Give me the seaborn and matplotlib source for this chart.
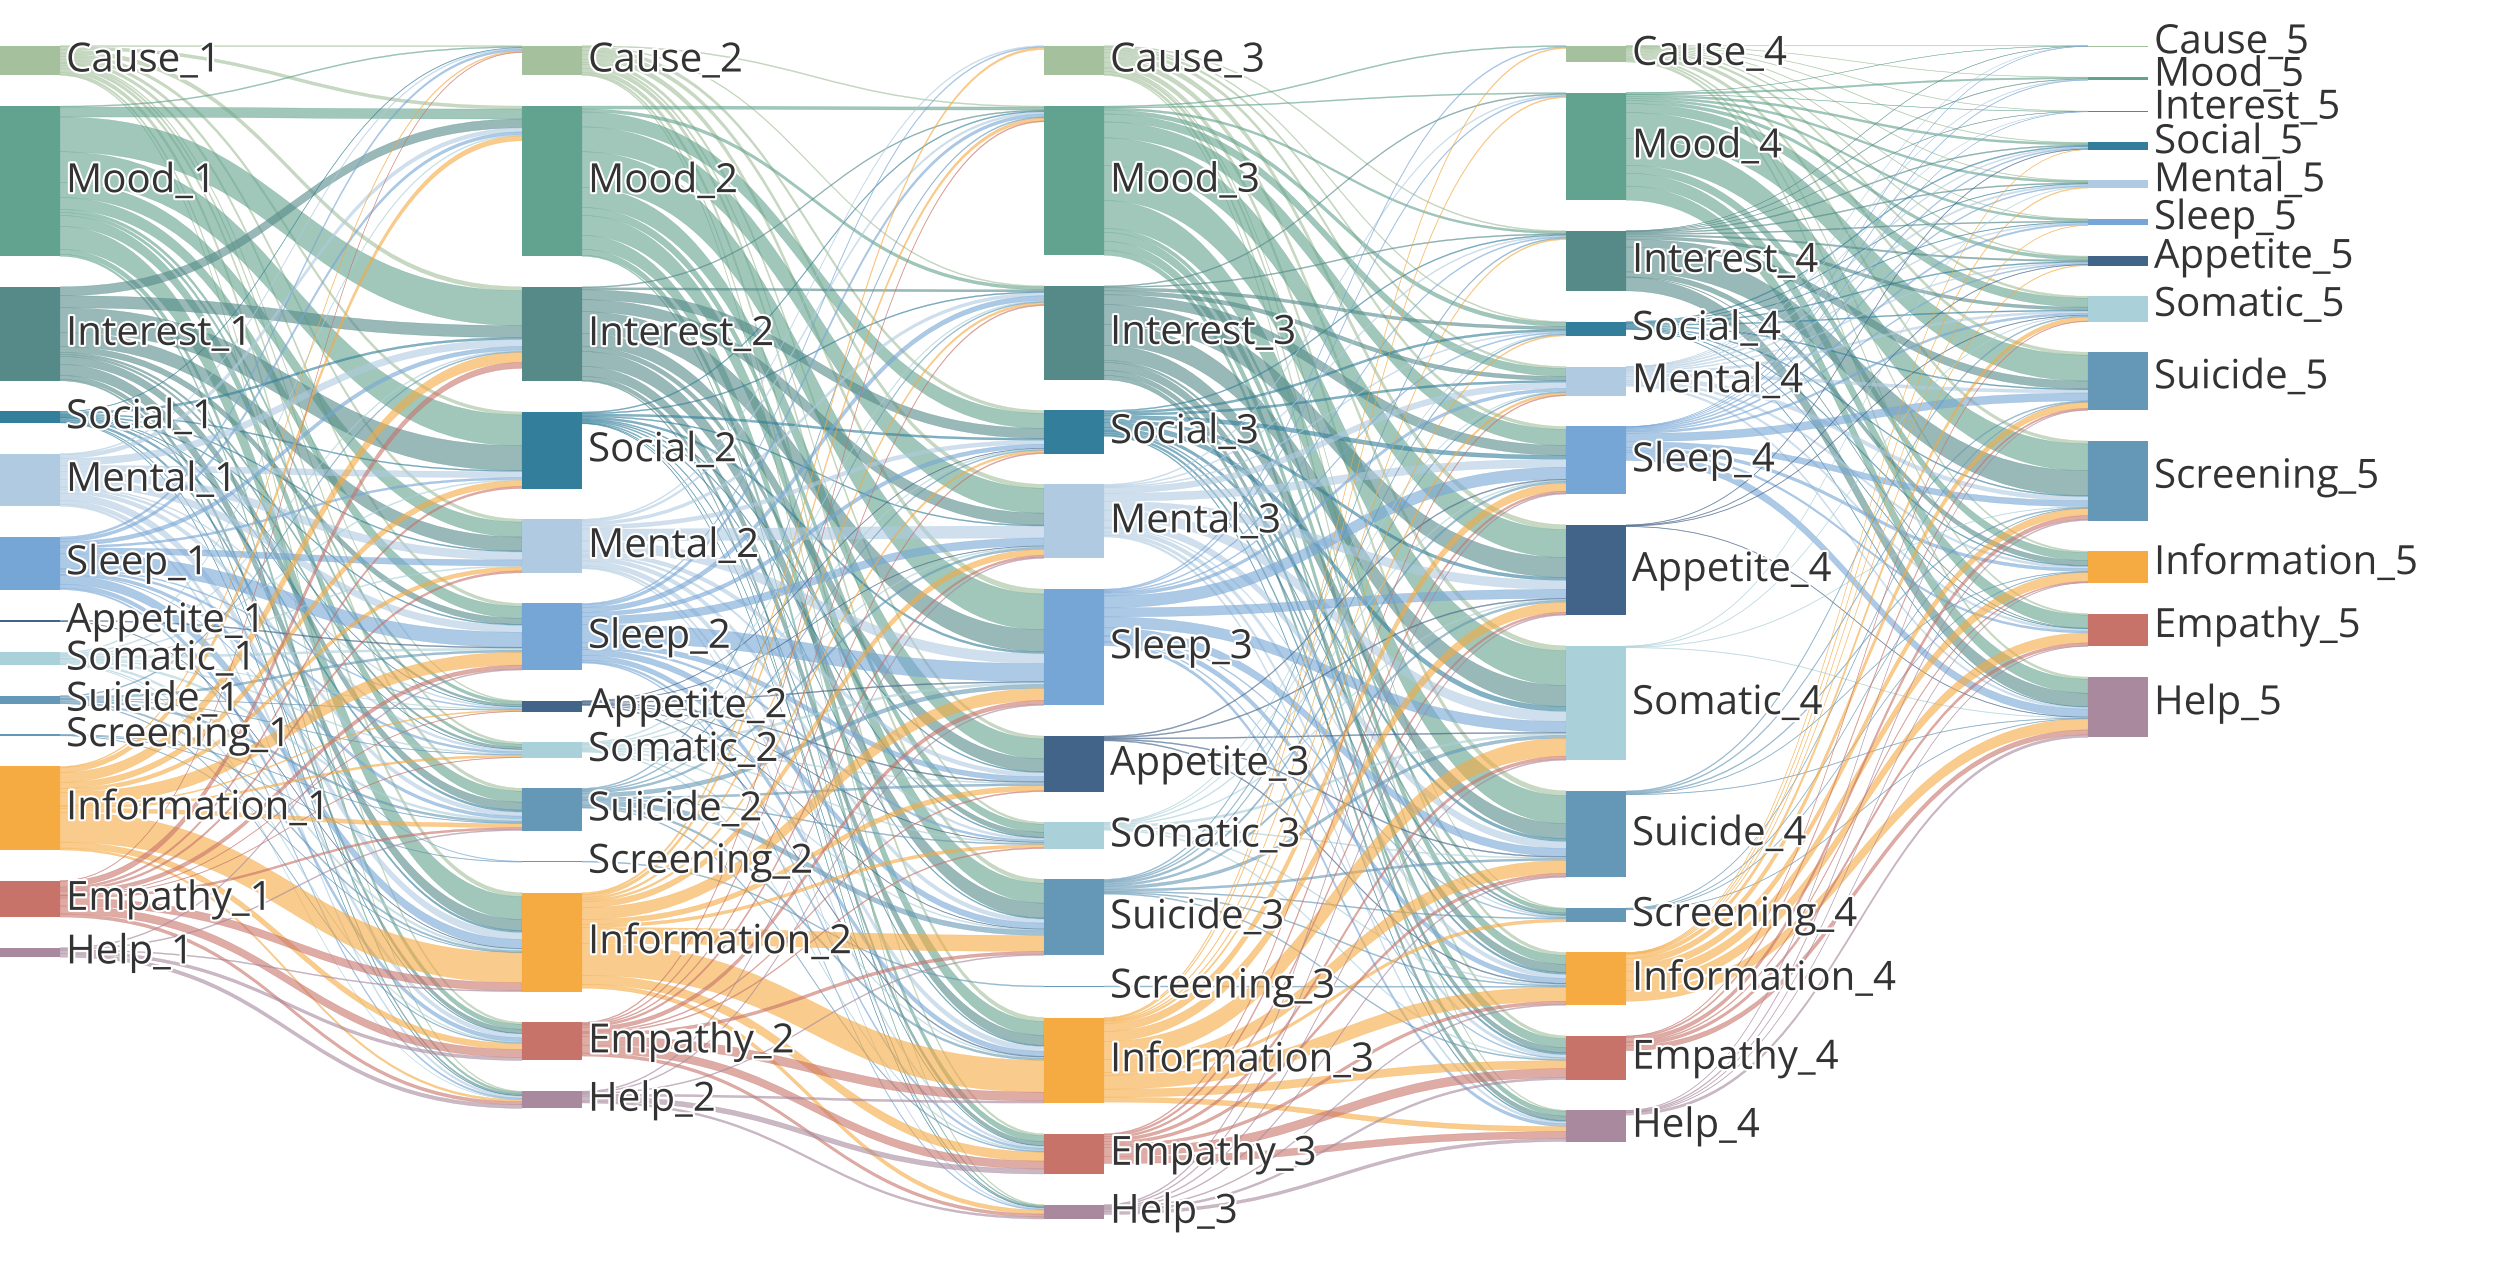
import numpy as np
import matplotlib
matplotlib.use("Agg")
import matplotlib.pyplot as plt
import matplotlib.patheffects as pe
from matplotlib.path import Path
from matplotlib.patches import PathPatch, Rectangle
import seaborn as sns

# categories shown in every stage, top to bottom
categories = ["Cause", "Mood", "Interest", "Social", "Mental", "Sleep", "Appetite",
              "Somatic", "Suicide", "Screening", "Information", "Empathy", "Help"]
stages = [1, 2, 3, 4, 5]

node_colors = ["#a4c09c", "#62a38f", "#558a89", "#337f9b", "#b0cbe1", "#76a6d6", "#436489",
               "#aad0d9", "#6598b6", "#6598b6", "#f5aa42", "#c8736a", "#a8899e"]

# flow matrices: rows = source category (stage k), cols = target category (stage k+1)
flow_1_2 = [
    [1, 3, 4, 3, 3, 3, 1, 2, 3, 0, 4, 2, 1],
    [1, 10, 35, 31, 15, 12, 3, 3, 11, 0, 23, 5, 2],
    [0, 9, 12, 25, 14, 6, 2, 2, 8, 0, 11, 4, 1.5],
    [0.5, 0, 2, 1, 1, 1, 0.5, 0.5, 2, 0, 2, 0.6, 0.5],
    [1, 4, 7, 6, 8, 7, 1, 2, 4, 0, 7, 4, 2],
    [2, 3, 4, 2, 6, 15, 1, 2, 3, 0.5, 9, 4, 1.5],
    [0, 0, 0, 0, 0, 1, 0, 0, 0, 0, 0.5, 0, 0],
    [0, 1, 1, 1, 1, 2, 0.5, 1, 2, 0, 2, 1, 0.2],
    [0, 0, 1, 0, 0, 2, 0.5, 0.5, 2, 0, 1.5, 0.8, 0],
    [0, 0, 0, 0, 0, 0, 0, 0, 0.5, 0.5, 0.5, 0, 0],
    [1, 5, 10, 6, 4, 13, 1, 2, 4, 0, 30, 6, 2],
    [0.5, 0, 6, 2, 2, 4, 0.5, 0.5, 2, 0, 8, 8, 3.1],
    [0, 0, 0, 0, 0, 1, 0, 0, 1, 0, 1, 3, 3.6],
]

flow_2_3 = [
    [0, 1, 1, 3, 4, 5, 3, 2, 4, 0, 4, 2, 1],
    [0, 3, 3, 15, 25, 36, 20, 8, 20, 0, 14, 6, 1],
    [0, 1, 2, 10, 12, 22, 13, 5, 15, 0, 10, 4, 1],
    [0, 1, 1, 2, 1, 2, 1, 1, 1, 0, 1, 0.5, 0.5],
    [1, 2, 3, 4, 12, 10, 4, 2, 4, 0, 5, 2, 1],
    [1, 3, 5, 4, 8, 18, 5, 2, 6, 0, 5, 2, 1],
    [0, 0, 0, 0.5, 0.5, 1, 1, 0.5, 0.5, 0, 1, 0, 0],
    [0, 0, 1, 1, 1, 2, 1, 1, 1, 0, 1, 1, 0],
    [0, 1, 1, 1, 2, 4, 2, 1, 5, 0, 2, 1, 0],
    [0, 0, 0, 0, 0, 0, 0, 0, 0, 1, 0, 0, 0],
    [2, 3, 2, 2, 6, 12, 5, 3, 16, 0, 32, 9, 4],
    [0, 1, 1, 1, 2, 4, 1, 1, 3, 0, 9, 8, 3],
    [0, 0, 0, 0, 1, 1, 0, 0, 1, 0, 2, 5, 2],
]

flow_3_4 = [
    [0, 0, 1, 1, 2, 3, 5, 5, 5, 1, 3, 3, 1],
    [1, 1, 2, 4, 8, 16, 28, 35, 28, 4, 9, 9, 5],
    [0, 1, 1, 3, 4, 10, 20, 21, 15, 2, 8, 5, 4.5],
    [0, 0, 1, 2, 2, 4, 3, 5, 3, 1, 2, 2, 1],
    [0, 1, 1, 1, 6, 8, 9, 10, 7, 1, 4, 3, 2],
    [1, 1, 1, 1, 3, 12, 9, 11, 8, 1, 5, 1, 3],
    [0, 0, 0, 0, 0, 1, 1, 1, 1, 0, 1, 0, 0],
    [0, 0, 0, 0.5, 0.5, 1, 1, 2, 1, 0, 1, 1, 0],
    [0, 0, 1, 1, 1, 2, 2, 3, 2, 1, 1, 1, 0],
    [0, 0, 0, 0, 0, 0, 0, 0, 0, 0, 1, 0, 0],
    [1, 1, 1, 1, 2, 8, 10, 18, 13, 3, 14, 8, 5],
    [0, 0, 0, 0, 1, 2, 2, 3, 3, 0, 3, 9, 7],
    [0, 0, 0, 0, 0, 1, 1, 1, 1, 0, 1, 2, 3],
]

flow_4_5 = [
    [0.3, 0.3, 0.3, 0.5, 0.5, 0.5, 1, 2, 3, 3, 1.5, 1.5, 2.2],
    [0.2, 1.5, 0.2, 2, 2, 2, 3, 9, 26, 27, 8, 13, 14.1],
    [0.2, 0.5, 0.2, 1, 1, 1, 1.5, 3, 8, 25, 5, 0.5, 13.6],
    [0, 0, 0, 1, 0.5, 0.5, 1, 1, 1, 1, 1, 0.5, 0.5],
    [0.1, 0.5, 0.1, 1, 1.5, 1, 1, 2, 3, 4, 2, 2, 1.8],
    [0.1, 0.5, 0.1, 1, 1, 1.5, 1, 2, 8, 6, 3, 2, 8],
    [0, 0, 0, 0.5, 0, 0, 0.5, 0.5, 0, 0, 0, 0, 0.5],
    [0, 0, 0, 0, 0.5, 0, 0, 0.5, 0, 0.5, 0, 0, 0.5],
    [0, 0, 0, 0, 0, 0, 0, 1, 1, 1, 0.5, 0, 0.5],
    [0, 0, 0, 0, 0, 0, 0, 0, 0.5, 0.5, 0.5, 0, 0.5],
    [0, 0, 0, 0.3, 0.8, 0.3, 0.6, 4, 6, 7, 9, 10, 11],
    [0, 0, 0, 0, 0, 0, 0, 0.5, 1.5, 4, 1, 3, 5],
    [0, 0, 0, 0, 0, 0, 0, 0, 0.5, 1, 0.5, 0.5, 2.5],
]

sns.set_theme(style="white")
plt.rcParams["font.family"] = ["Open Sans", "DejaVu Sans"]
palette = sns.color_palette(node_colors)

flows = [np.array(f, dtype=float) for f in (flow_1_2, flow_2_3, flow_3_4, flow_4_5)]
n_cat, n_col = len(categories), len(stages)

# node value = max(inflow, outflow), like a regular sankey
inflow = np.zeros((n_col, n_cat))
outflow = np.zeros((n_col, n_cat))
for k, m in enumerate(flows):
    outflow[k] += m.sum(axis=1)
    inflow[k + 1] += m.sum(axis=0)
node_val = np.maximum(inflow, outflow)

# layout in pixel space
W, H = 2512, 1284
node_w = 60
x_right = 2148
top, bottom = 45.6, 1219
pad = 30.6
ky = (bottom - top - pad * (n_cat - 1)) / node_val.sum(axis=1).max()
col_x = [k * (x_right - node_w) / (n_col - 1) for k in range(n_col)]

node_y = np.zeros_like(node_val)
for k in range(n_col):
    y = top
    for i in range(n_cat):
        node_y[k, i] = y
        y += node_val[k, i] * ky + pad

fig = plt.figure(figsize=(W / 100, H / 100), dpi=100)
ax = fig.add_axes([0, 0, 1, 1])
ax.set_xlim(0, W)
ax.set_ylim(H, 0)
ax.axis("off")

# links
for k, m in enumerate(flows):
    h = m * ky
    s_pos = np.zeros_like(h)
    t_pos = np.zeros_like(h)
    off = node_y[k].copy()
    for i in range(n_cat):
        for j in range(n_cat):
            s_pos[i, j] = off[i]
            off[i] += h[i, j]
    off = node_y[k + 1].copy()
    for j in range(n_cat):
        for i in range(n_cat):
            t_pos[i, j] = off[j]
            off[j] += h[i, j]

    x0 = col_x[k] + node_w
    x1 = col_x[k + 1]
    xm = (x0 + x1) / 2
    for i in range(n_cat):
        for j in range(n_cat):
            if h[i, j] <= 0:
                continue
            ys, yt, t = s_pos[i, j], t_pos[i, j], h[i, j]
            verts = [(x0, ys), (xm, ys), (xm, yt), (x1, yt),
                     (x1, yt + t), (xm, yt + t), (xm, ys + t), (x0, ys + t), (x0, ys)]
            codes = [Path.MOVETO, Path.CURVE4, Path.CURVE4, Path.CURVE4,
                     Path.LINETO, Path.CURVE4, Path.CURVE4, Path.CURVE4, Path.CLOSEPOLY]
            ax.add_patch(PathPatch(Path(verts, codes), facecolor=palette[i], alpha=0.6,
                                   edgecolor=palette[i], lw=0.3))

# nodes and labels
for k in range(n_col):
    for i in range(n_cat):
        hh = max(node_val[k, i] * ky, 1.2)
        ax.add_patch(Rectangle((col_x[k], node_y[k, i]), node_w, hh,
                               facecolor=palette[i], edgecolor="none"))
        yc = node_y[k, i] + hh / 2
        dy = 7 if k == n_col - 1 else 11
        ax.text(col_x[k] + node_w + 6, yc + dy, f"{categories[i]}_{stages[k]}",
                ha="left", va="baseline", fontsize=29, color="#333333",
                path_effects=[pe.withStroke(linewidth=3, foreground="white")])

fig.savefig("out.png", dpi=100, facecolor="white")
